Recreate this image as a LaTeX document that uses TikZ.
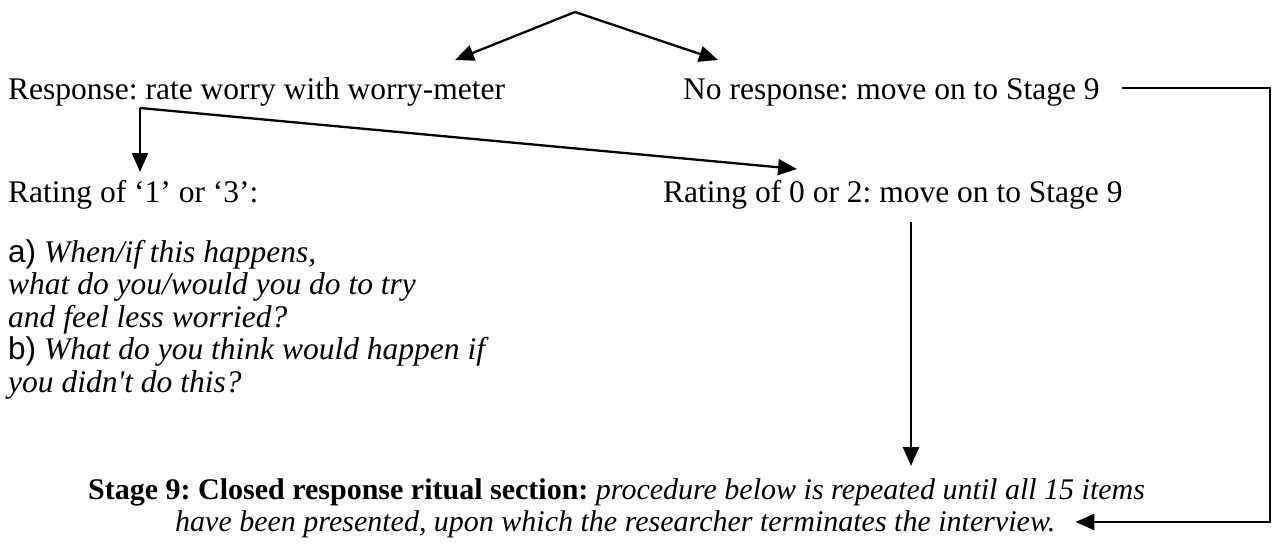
\documentclass[tikz,border=0pt]{standalone}
\usepackage{fontspec}
\setmainfont{Liberation Serif}
\newfontfamily\itemfont{Liberation Sans}
\usetikzlibrary{arrows.meta}
\frenchspacing
\tikzset{
  txt/.style={anchor=base west, inner sep=0pt, font=\fontsize{31.5}{33}\selectfont},
  small/.style={txt, font=\fontsize{30}{32}\selectfont},
  flow/.style={line width=2.3pt, -{Triangle[length=19pt,width=16pt]}},
  rule/.style={line width=2.3pt}
}
\begin{document}
\begin{tikzpicture}[x=1pt,y=-1pt]
\useasboundingbox (0,0) rectangle (1280,550);
% first split
\coordinate (top) at (575,12);
\coordinate (lt) at (455,60);
\coordinate (rt) at (718,60);
\draw[flow] (top) -- (lt);
\draw[flow] (top) -- (rt);
\node[txt] (resp)   at (8,99)   {Response: rate worry with worry-meter};
\node[txt] (noresp) at (683,99) {No response: move on to Stage 9};
% ratings
\node[txt] (rate13) at (8,202)   {Rating of `1' or `3':};
\node[txt] (rate02) at (663,202) {Rating of 0 or 2: move on to Stage 9};
\coordinate (elb) at (140,108);
\draw[flow] (elb) -- (elb |- 0,172);
\draw[flow] (elb) -- (797,169);
% questions
\node[txt] (qa1) at (8,262)   {{\itemfont a)} \textit{When/if this happens,}};
\node[txt] (qa2) at (8,294.5) {\textit{what do you/would you do to try}};
\node[txt] (qa3) at (8,327)   {\textit{and feel less worried?}};
\node[txt] (qb1) at (8,359.5) {{\itemfont b)} \textit{What do you think would happen if}};
\node[txt] (qb2) at (8,392)   {\textit{you didn\textquotesingle t do this?}};
% stage 9
\node[small] (stagea) at (88,499)  {\textbf{Stage 9: Closed response ritual section:} \textit{procedure below is repeated until all 15 items}};
\node[small] (stageb) at (175,531) {\textit{have been presented, upon which the researcher terminates the interview.}};
\coordinate (down) at (911,222);
\draw[flow] (down) -- (down |- 0,466);
\coordinate (edge) at (1270,0);
\coordinate (nr) at ([shift={(22,-11)}]noresp.base east);
\coordinate (tip) at ([shift={(20,-9)}]stageb.base east);
\draw[flow] (nr) -- (nr -| edge) |- (tip);
\end{tikzpicture}
\end{document}
